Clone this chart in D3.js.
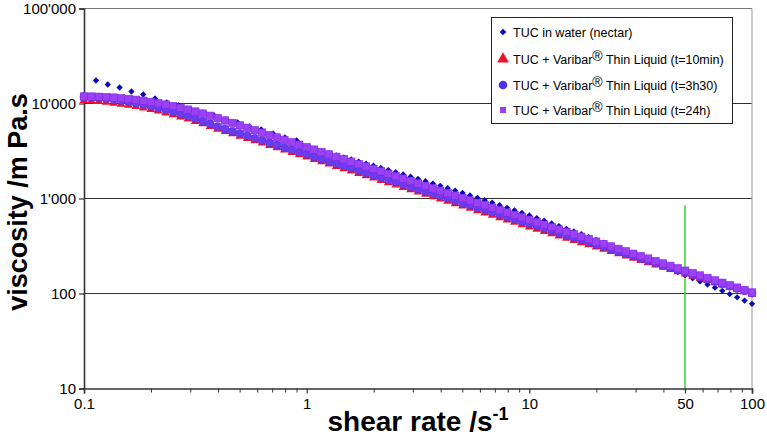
<!DOCTYPE html>
<html><head><meta charset="utf-8">
<script src="https://cdn.jsdelivr.net/npm/d3@7"></script>
<style>body{margin:0;background:#fff}svg{display:block}text{font-family:"Liberation Sans",Arial,sans-serif}</style>
</head><body><svg id="c" width="767" height="436"></svg>
<script>
// shear rate grid (1/s)
const shear = [0.1,0.108,0.1166,0.1259,0.1359,0.1468,0.1585,0.1711,0.1848,0.1995,0.2154,0.2326,0.2512,0.2712,0.2929,0.3162,0.3415,0.3687,0.3981,0.4299,0.4642,0.5012,0.5412,0.5843,0.631,0.6813,0.7356,0.7943,0.8577,0.9261,
1,1.08,1.166,1.259,1.359,1.468,1.585,1.711,1.848,1.995,2.154,2.326,2.512,2.712,2.929,3.162,3.415,3.687,3.981,4.299,4.642,5.012,5.412,5.843,6.31,6.813,7.356,7.943,8.577,9.261,
10,10.8,11.66,12.59,13.59,14.68,15.85,17.11,18.48,19.95,21.54,23.26,25.12,27.12,29.29,31.62,34.15,36.87,39.81,42.99,46.42,50.12,54.12,58.43,63.1,68.13,73.56,79.43,85.77,92.61,100];

// TUC in water (nectar): sparse low-shear points then dense points on shear grid from 1 s-1
const nectarShearLow = [0.1132,0.1279,0.1445,0.1633,0.1845,0.2084,0.2354,0.266,0.3005,0.3396,0.3836,0.4335,0.4897,0.5533,0.6251,0.7062,0.7979,0.9014];
const nectarLow = [17460,15840,14730,13370,12440,11290,10240,9530,8650,8040,7470,6780,6310,5730,5330,4830,4390,4080];
const nectarHigh = [3443,3285,3132,2985,2843,2706,2575,2448,2327,2210,2098,1991,1888,1790,1695,1605,1519,1437,1358,1283,1211,1143,1078,1017,957.7,901.8,848.7,798.3,750.5,705.2,662.3,621.6,583.1,546.7,512.3,479.8,449.1,420.1,392.8,367.1,342.9,320.1,298.6,278.4,259.4,241.6,224.9,209.2,194.5,180.8,167.9,155.9,144.6,134.1,124.3,115.1,106.6,98.6,91.2,84.3,77.9];

// TUC + Varibar Thin Liquid, t=10min
const t10min = [10750,10640,10490,10300,10090,9853,9589,9300,8993,8667,8326,7973,7610,7240,6866,6490,6114,5743,5377,5083,4804,4540,4291,4055,3833,3622,3423,3235,3058,2890,2731,2581,2440,2306,2179,2059,1946,1840,1739,1643,1553,1468,1387,1311,1239,1171,1107,1046,988.5,934.2,882.9,834.4,788.6,745.3,704.4,665.7,629.2,594.7,562.0,531.2,502.0,475.5,450.5,426.7,404.2,382.9,362.7,343.6,325.5,308.3,292.1,276.7,262.1,248.3,235.2,222.8,211.1,199.9,189.4,179.4,170.0,161.0,152.5,144.4,136.9,129.7,122.8,116.4,110.3,104.5,98.9];
// t=3h30
const t3h30 = [11850,11700,11510,11280,11030,10750,10440,10100,9750,9377,8990,8591,8183,7770,7354,6938,6523,6113,5713,5402,5107,4829,4566,4317,4082,3859,3649,3450,3262,3084,2916,2757,2607,2465,2331,2203,2083,1970,1863,1761,1665,1574,1488,1407,1331,1258,1190,1125,1063,1006,950.7,898.9,849.9,803.6,759.8,718.4,679.2,642.2,607.2,574.1,542.8,513.2,485.3,458.8,433.8,410.1,387.8,366.7,346.7,327.8,309.9,293.0,277.1,261.9,247.6,234.1,221.4,209.3,197.8,187.0,176.8,167.2,158.1,149.5,141.3,133.6,126.4,119.5,113.0,106.8,101.0];
// t=24h
const t24h = [11850,11830,11770,11680,11550,11380,11180,10950,10690,10400,10080,9744,9388,9016,8631,8236,7833,7426,7020,6620,6242,5887,5551,5235,4936,4655,4389,4139,3903,3681,3471,3273,3087,2911,2745,2588,2441,2302,2171,2047,1930,1820,1716,1619,1526,1439,1357,1280,1207,1138,1073,1012,954.4,900.0,848.7,800.3,754.7,711.7,671.1,632.9,596.8,562.8,530.7,500.5,471.9,445.0,419.7,395.7,373.1,351.9,331.8,312.8,295.0,278.2,262.3,247.4,233.3,220.0,207.4,195.6,184.4,173.9,164.0,154.7,145.8,137.5,129.7,122.3,115.3,108.8,102.5];

const seriesNames = ["TUC in water (nectar)","TUC + Varibar","TUC + Varibar","TUC + Varibar"];
const seriesSuffix = [""," Thin Liquid (t=10min)"," Thin Liquid (t=3h30)"," Thin Liquid (t=24h)"];
const xTicks = [0.1,1,10,50,100];
const xTickLabels = ["0.1","1","10","50","100"];
const yTicks = [10,100,1000,10000,100000];
const yTickLabels = ["10","100","1'000","10'000","100'000"];
const xMinor = [0.2,0.3,0.4,0.5,0.6,0.7,0.8,0.9,2,3,4,5,6,7,8,9,20,30,40,50,60,70,80,90];
const markerLine = {x:50, y0:10, y1:850};

const svg = d3.select("#c");
const L=84,R=752,T=8.5,B=388.5;
const x = d3.scaleLog().domain([0.1,100]).range([L,R]);
const y = d3.scaleLog().domain([10,100000]).range([B,T]);

// grid lines
svg.append("g").selectAll("line").data([100,1000,10000]).join("line")
  .attr("x1",L).attr("x2",R).attr("y1",d=>y(d)).attr("y2",d=>y(d))
  .attr("stroke","#333").attr("stroke-width",1.2);
// top & right border
svg.append("line").attr("x1",L).attr("x2",R).attr("y1",y(100000)).attr("y2",y(100000)).attr("stroke","#777").attr("stroke-width",1);
svg.append("line").attr("x1",R).attr("x2",R).attr("y1",T).attr("y2",B).attr("stroke","#999").attr("stroke-width",1);

// green reference line
svg.append("line").attr("x1",x(markerLine.x)).attr("x2",x(markerLine.x))
  .attr("y1",y(markerLine.y0)).attr("y2",y(markerLine.y1))
  .attr("stroke","#3ddc3d").attr("stroke-width",1.6);

const fontTick = 15;
// axes
const gx = svg.append("g").attr("transform",`translate(0,${B})`)
  .call(d3.axisBottom(x).tickValues(xTicks).tickFormat((d,i)=>xTickLabels[i]).tickSize(5).tickPadding(5));
const gxm = svg.append("g").attr("transform",`translate(0,${B})`)
  .call(d3.axisBottom(x).tickValues(xMinor).tickFormat("").tickSize(4));
gxm.select(".domain").remove();
const gy = svg.append("g").attr("transform",`translate(${L},0)`)
  .call(d3.axisLeft(y).tickValues(yTicks).tickFormat((d,i)=>yTickLabels[i]).tickSize(5).tickPadding(3));
[gx,gy].forEach(g=>{
  g.select(".domain").attr("stroke","#333").attr("stroke-width",1.6);
  g.selectAll("text").attr("font-size",fontTick).attr("fill","#000").attr("font-family","Liberation Sans, Arial, sans-serif");
});
gx.selectAll(".tick line").attr("stroke","#333").attr("stroke-width",1.2);
gxm.selectAll(".tick line").attr("stroke","#333").attr("stroke-width",1);
gy.selectAll(".tick line").attr("stroke","#333").attr("stroke-width",1.2);
gy.selectAll(".tick text").attr("dy","0.35em");

// markers
const cols = {blue:"#0a0ab8", red:"#f0102a", circ:"#6a3cf0", sq:"#9c40f6"};
const g = svg.append("g");
const nectar = nectarShearLow.map((s,i)=>[s,nectarLow[i]]).concat(shear.slice(30).map((s,i)=>[s,nectarHigh[i]]));
g.append("g").selectAll("path").data(nectar).join("path")
  .attr("d",d3.symbol(d3.symbolSquare,20)())
  .attr("transform",d=>`translate(${x(d[0])},${y(d[1])}) rotate(45)`)
  .attr("fill",cols.blue);
g.append("g").selectAll("path").data(shear.map((s,i)=>[s,t10min[i]])).join("path")
  .attr("d",d3.symbol(d3.symbolTriangle,34)())
  .attr("transform",d=>`translate(${x(d[0])},${y(d[1])})`)
  .attr("fill",cols.red);
g.append("g").selectAll("circle").data(shear.map((s,i)=>[s,t3h30[i]])).join("circle")
  .attr("cx",d=>x(d[0])).attr("cy",d=>y(d[1])).attr("r",4)
  .attr("fill",cols.circ).attr("stroke","#5a2cdc").attr("stroke-width",0.6);
g.append("g").selectAll("rect").data(shear.map((s,i)=>[s,t24h[i]])).join("rect")
  .attr("x",d=>x(d[0])-3.7).attr("y",d=>y(d[1])-3.7).attr("width",7.4).attr("height",7.4)
  .attr("fill",cols.sq).attr("stroke","#7d2ae2").attr("stroke-width",0.6);

// legend
const lg = svg.append("g");
lg.append("rect").attr("x",491.5).attr("y",17.5).attr("width",241).attr("height",106)
  .attr("fill","#fff").attr("stroke","#222").attr("stroke-width",1);
const rows=[32,59,85,110];
const lx=503;
lg.append("path").attr("d",d3.symbol(d3.symbolSquare,22)()).attr("transform",`translate(${lx},${rows[0]}) rotate(45)`).attr("fill",cols.blue);
lg.append("path").attr("d",d3.symbol(d3.symbolTriangle,60)()).attr("transform",`translate(${lx},${rows[1]})`).attr("fill",cols.red);
lg.append("circle").attr("cx",lx).attr("cy",rows[2]).attr("r",4.3).attr("fill","#4d33e6");
lg.append("rect").attr("x",lx-3).attr("y",rows[3]-3).attr("width",6).attr("height",6).attr("fill",cols.sq);
rows.forEach((ry,i)=>{
  const t = lg.append("text").attr("x",513).attr("y",ry+4.5).attr("font-size",12.5).attr("fill","#000");
  t.append("tspan").text(seriesNames[i]);
  if(i>0){
    t.append("tspan").attr("dy",-3).attr("font-size",14).text("\u00AE");
    t.append("tspan").attr("dy",3).text(seriesSuffix[i]);
  }
});

// axis titles
const xt = svg.append("text").attr("x",418).attr("y",431).attr("text-anchor","middle")
  .attr("font-size",28).attr("font-weight","bold").attr("fill","#000");
xt.append("tspan").text("shear rate /s");
xt.append("tspan").attr("dy",-11).attr("font-size",18).text("-1");
svg.append("text").attr("transform","translate(27,202) rotate(-90)").attr("text-anchor","middle")
  .attr("font-size",27).attr("font-weight","bold").attr("fill","#000").text("viscosity /m Pa.s");
</script></body></html>
